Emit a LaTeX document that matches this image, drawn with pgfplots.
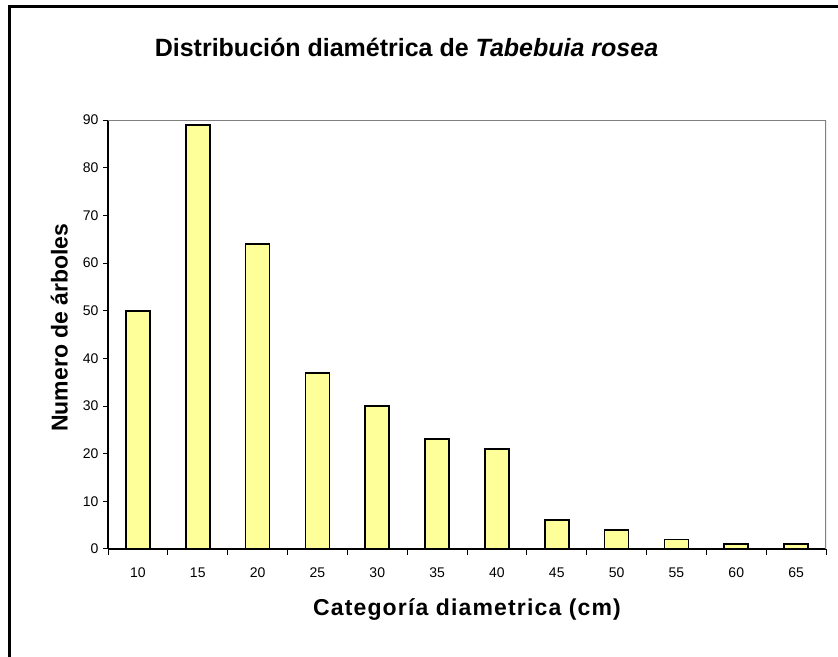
\documentclass[border=0pt]{standalone}
\usepackage{pgfplots}
\pgfplotsset{compat=1.18}
\usepackage{fontspec}
\setmainfont{Liberation Sans}
\definecolor{baryellow}{HTML}{FFFF99}
\begin{document}
\begin{tikzpicture}[x=1pt,y=1pt]
\path[use as bounding box] (0,0) rectangle (838,656);
\draw[line width=3pt] (9,-5) -- (9,649) -- (845,649);
\node[font=\bfseries\fontsize{25}{30}\selectfont] at (406.5,609) {Distribución diamétrica de \textit{Tabebuia rosea}};
\begin{axis}[
  at={(108pt,107pt)}, anchor=south west,
  scale only axis, width=718pt, height=429pt,
  ymin=0, ymax=90, xmin=-0.5, xmax=11.5,
  ytick={0,10,...,90},
  xtick={0,...,11},
  xticklabels={10,15,20,25,30,35,40,45,50,55,60,65},
  minor xtick={-0.5,0.5,...,11.5},
  major x tick style={draw=none},
  tick align=outside,
  tick style={black, line width=1pt},
  major tick length=5pt, minor tick length=6pt,
  axis x line*=bottom, axis y line*=left,
  axis line style={-, black, line width=1.2pt},
  ticklabel style={font=\fontsize{14}{16}\selectfont},
  xticklabel style={yshift=-10pt},
  yticklabel style={xshift=-1pt},
  /pgf/number format/assume math mode=true,
  xlabel={\addfontfeatures{LetterSpace=5}Categoría diametrica (cm)},
  ylabel={Numero de árboles},
  label style={font=\bfseries\fontsize{23}{27}\selectfont},
  xlabel style={at={(axis description cs:0.5,-0.14)}, anchor=center},
  ylabel style={at={(axis description cs:-0.068,0.516)}, anchor=center},
  ybar, bar width=24pt,
]
\addplot[fill=baryellow, draw=black, line width=1.8pt] coordinates {
(0,50) (1,89) (2,64) (3,37) (4,30) (5,23) (6,21) (7,6) (8,4) (9,2) (10,1) (11,1)};
\draw[gray, line width=1.2pt] (rel axis cs:0,1) -- (rel axis cs:1,1) -- (rel axis cs:1,0);
\end{axis}
\end{tikzpicture}
\end{document}
